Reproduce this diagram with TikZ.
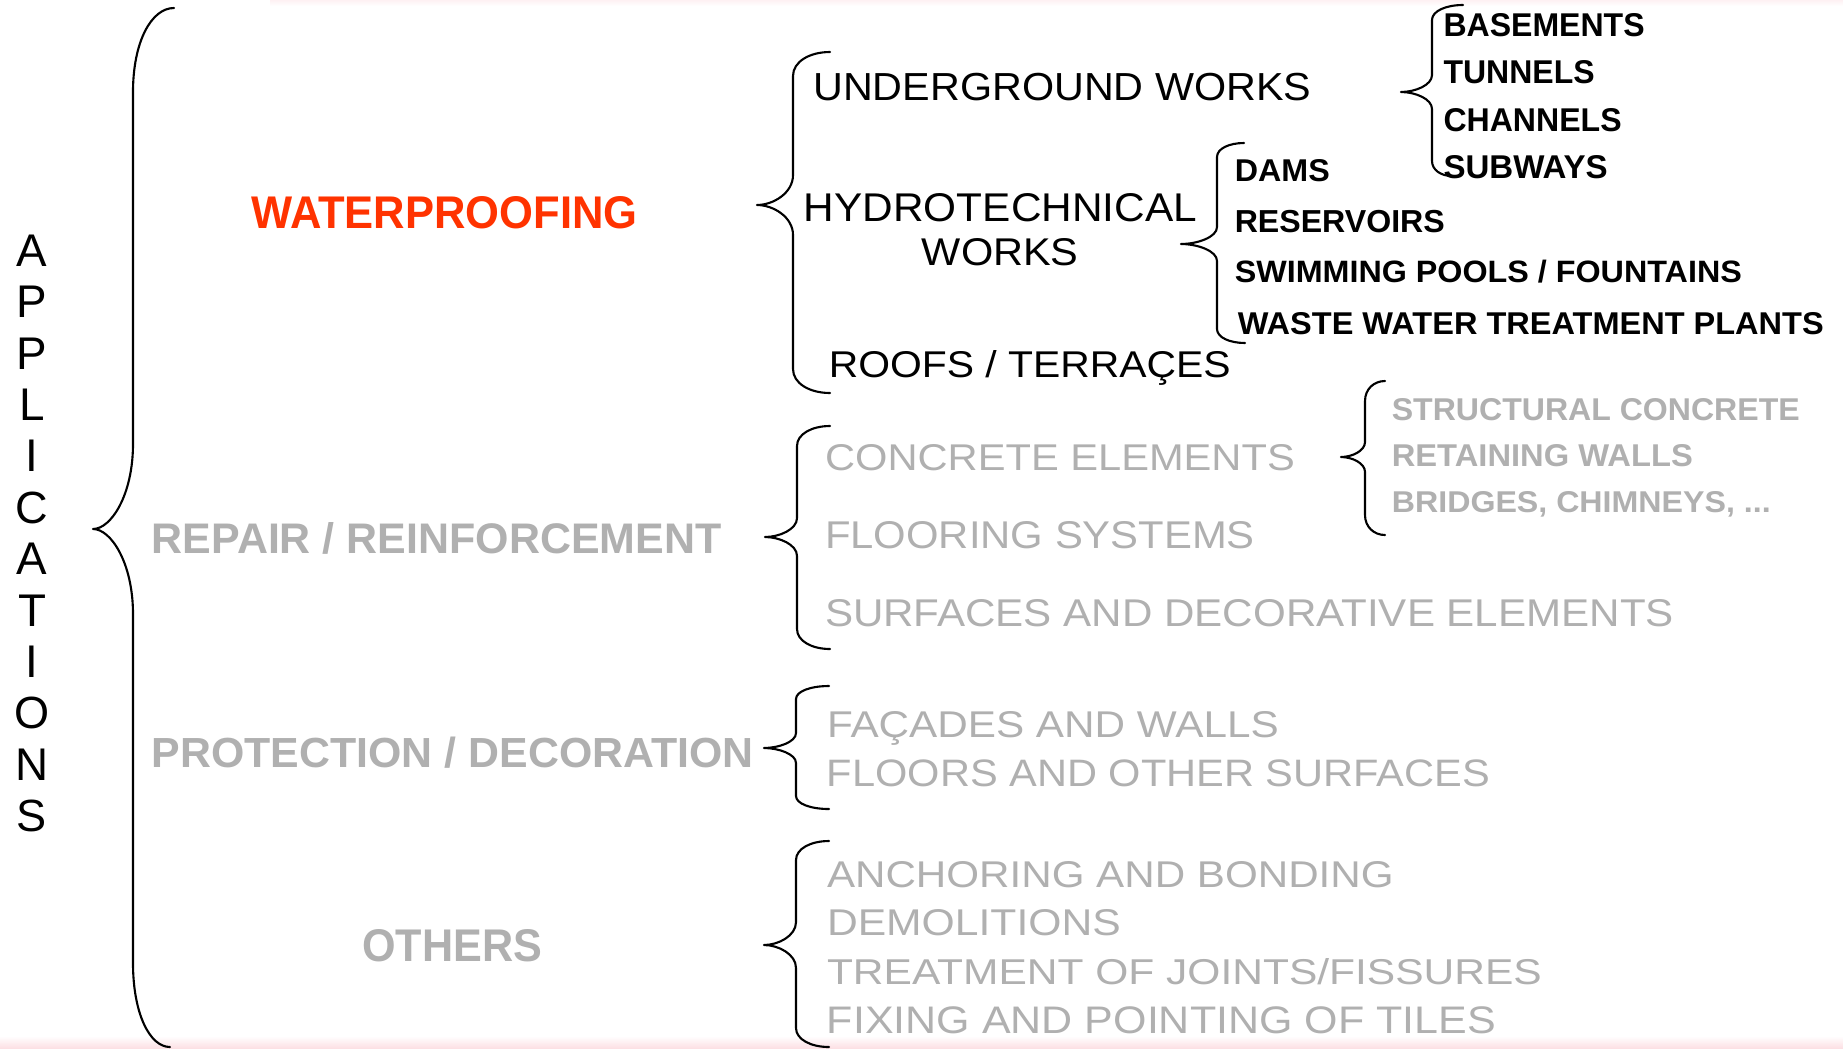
\documentclass[tikz,border=0pt]{standalone}
\usepackage{fontspec}
\setmainfont{Liberation Sans}
\usepackage{graphicx}
\newlength\px
\setlength\px{0.01cm}
\definecolor{wred}{RGB}{255,51,0}
\definecolor{lgray}{RGB}{176,176,176}
\definecolor{edgepink}{RGB}{252,224,228}
% text placed by ink left x, baseline y, ink width W, cap height H (all in px)
\newcommand\tx[7][]{\pgfmathsetmacro\tmpW{#5+0.18*#6}%
  \node[lbl,#1] (#2) at ({#3-0.1*#6},#4) {\resizebox{\tmpW\px}{#6\px}{#7}};}
% curly brace: xe(top) xv xt ytop ytip ybot hc ht xe(bottom)
\newcommand\brc[9]{%
  \draw[brace] (#1,#4) .. controls ({#2+0.45*(#1-#2)},#4) and (#2,{#4+0.4*#7}) .. (#2,{#4+#7})
   -- (#2,{#5-#8}) .. controls (#2,{#5-0.4*#8}) and ({#3+0.45*(#2-#3)},#5) .. (#3,#5)
   .. controls ({#3+0.45*(#2-#3)},#5) and (#2,{#5+0.4*#8}) .. (#2,{#5+#8})
   -- (#2,{#6-#7}) .. controls (#2,{#6-0.4*#7}) and ({#2+0.45*(#9-#2)},#6) .. (#9,#6);}
\begin{document}
\begin{tikzpicture}[x=0.01cm,y=-0.01cm,
  lbl/.style={anchor=base west,inner sep=0pt,outer sep=0pt},
  brace/.style={draw=black,line width=0.6pt,line cap=round,line join=round}]
\useasboundingbox (0,0) rectangle (1843,1048);
\fill[white] (0,0) rectangle (1843,1048);
\shade[top color=white,bottom color=edgepink] (0,1036) rectangle (1843,1048);
\shade[top color=edgepink!45,bottom color=white] (270,0) rectangle (1843,6);

% APPLICATIONS (vertical)
\foreach \L [count=\i from 0] in {A,P,P,L,I,C,A,T,I,O,N,S}
  \node[anchor=base,inner sep=0pt] (app\i) at (32,{266.5+51.36*\i}) {\resizebox{!}{31.5\px}{\L}};

% braces
\brc{174}{133}{93}{8}{529}{1047}{84}{85}{170}
\brc{830}{793}{757}{52}{205}{393}{24}{30}{830}
\brc{830}{797}{765}{426}{537}{649}{20}{19}{830}
\brc{829}{796}{764}{686}{748}{809}{13}{15}{829}
\brc{829}{796}{764}{841}{945}{1047}{19}{23}{829}
\brc{1463}{1432}{1401}{5}{92}{176}{15}{17}{1452}
\brc{1244}{1217}{1181}{143}{244}{343}{14}{17}{1245}
\brc{1385}{1365}{1341}{381}{457}{535}{20}{15}{1385}

% main categories
\tx[text=wred]{wp}{254.5}{228}{380.5}{32}{\bfseries WATERPROOFING}
\tx[text=lgray]{rr}{155}{553}{564}{31}{\bfseries REPAIR / REINFORCEMENT}
\tx[text=lgray]{pd}{155}{767.5}{596}{30.5}{\bfseries PROTECTION / DECORATION}
\tx[text=lgray]{ot}{365.5}{961}{174}{32}{\bfseries OTHERS}

% waterproofing
\tx{ug}{816}{100}{493}{27.3}{UNDERGROUND WORKS}
\tx{hy}{806.7}{221}{388}{28}{HYDROTECHNICAL}
\tx{hw}{924.5}{265}{152}{27}{WORKS}
\tx{rt}{831.5}{377}{397}{27}{ROOFS / TERRAÇES}

\tx{ba}{1445.8}{36.4}{197}{23}{\bfseries BASEMENTS}
\tx{tu}{1445.8}{83.4}{147}{23}{\bfseries TUNNELS}
\tx{ch}{1445.8}{131}{174}{23}{\bfseries CHANNELS}
\tx{su}{1445.8}{178}{160}{23}{\bfseries SUBWAYS}

\tx{da}{1237}{181.8}{91}{22}{\bfseries DAMS}
\tx{re}{1237}{232.7}{206}{22.2}{\bfseries RESERVOIRS}
\tx{sw}{1237}{282.4}{503}{22.4}{\bfseries SWIMMING POOLS / FOUNTAINS}
\tx{ww}{1240}{334}{582}{22}{\bfseries WASTE WATER TREATMENT PLANTS}

% repair / reinforcement
\tx[text=lgray]{ce}{827.7}{470}{465}{26}{CONCRETE ELEMENTS}
\tx[text=lgray]{fs}{827.7}{548}{425}{27}{FLOORING SYSTEMS}
\tx[text=lgray]{sd}{827.7}{626}{844}{27}{SURFACES AND DECORATIVE ELEMENTS}
\tx[text=lgray]{sc}{1394}{420}{404}{22}{\bfseries STRUCTURAL CONCRETE}
\tx[text=lgray]{rw}{1394}{466}{297}{22}{\bfseries RETAINING WALLS}
\tx[text=lgray]{bc}{1394}{512.8}{375}{21}{\bfseries BRIDGES, CHIMNEYS, ...}

% protection / decoration
\tx[text=lgray]{fw}{829.6}{737}{447}{26}{FAÇADES AND WALLS}
\tx[text=lgray]{fo}{829.6}{786.7}{658}{26.7}{FLOORS AND OTHER SURFACES}

% others
\tx[text=lgray]{ab}{829.6}{887}{562}{26}{ANCHORING AND BONDING}
\tx[text=lgray]{de}{829.6}{935}{289}{26}{DEMOLITIONS}
\tx[text=lgray]{tj}{829.6}{984}{710}{26}{TREATMENT OF JOINTS/FISSURES}
\tx[text=lgray]{fp}{829.6}{1033.5}{664}{26.8}{FIXING AND POINTING OF TILES}
\end{tikzpicture}
\end{document}
